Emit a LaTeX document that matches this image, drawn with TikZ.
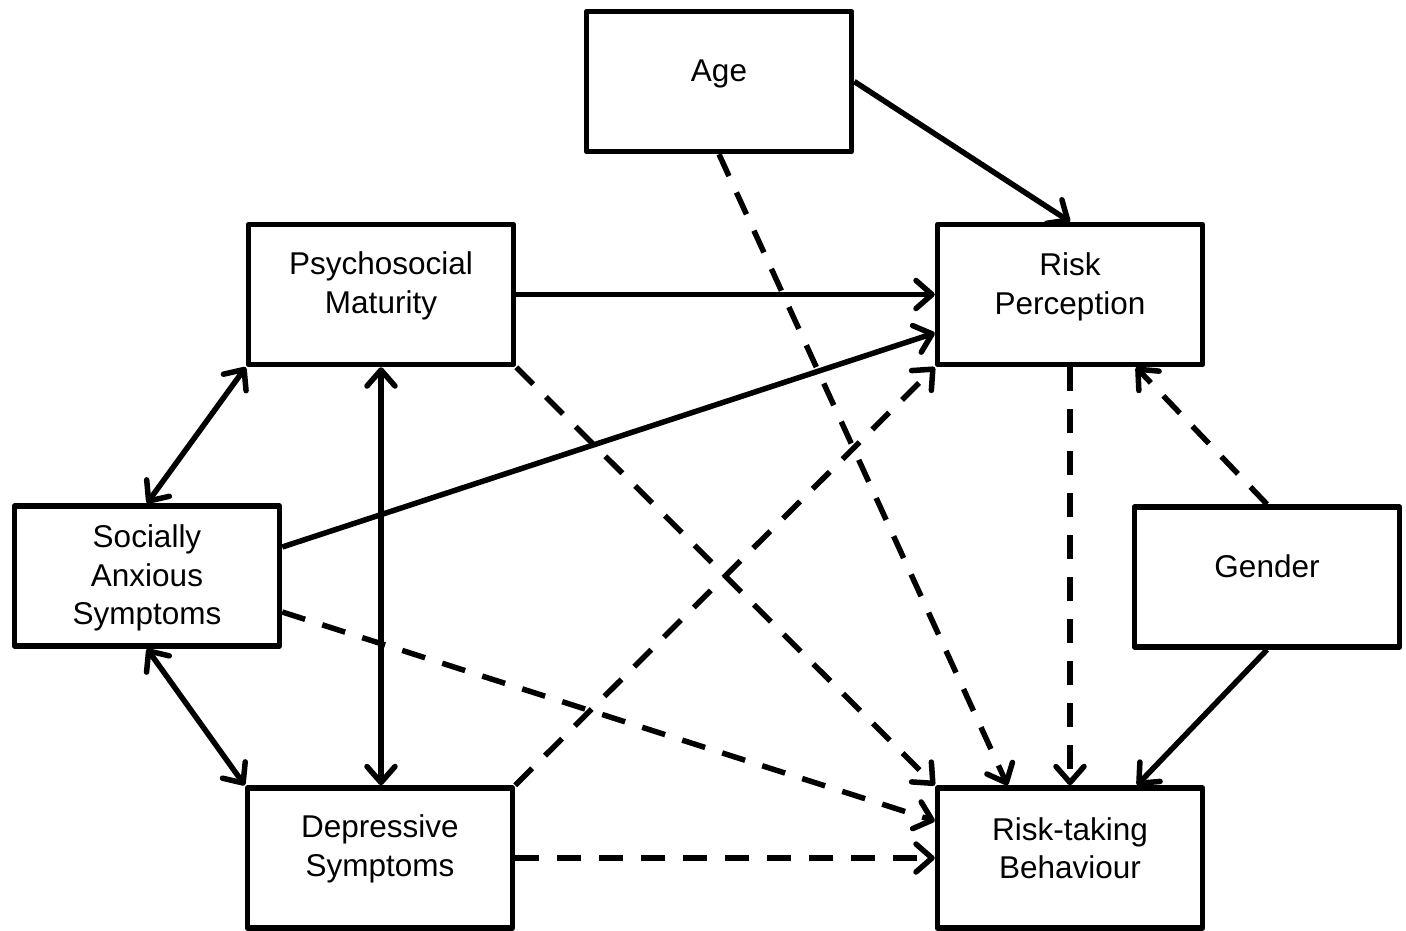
\documentclass[tikz,border=0pt]{standalone}
\usepackage{fontspec}
\setmainfont{Liberation Sans}
\usetikzlibrary{arrows.meta,calc}
\begin{document}
\begin{tikzpicture}[x=1pt,y=-1pt,
  >={Straight Barb[length=16pt,width=28pt,line cap=round,line join=round]},
  box/.style={draw,line width=5.5pt,line join=round,minimum width=265pt,minimum height=140pt,inner sep=0pt},
  lbl/.style={font=\fontsize{31.5}{38.5}\selectfont,align=center,inner sep=0pt},
  con/.style={line width=5.5pt,->},
  bicon/.style={line width=5.5pt,<->},
  dsh/.style={dash pattern=on 24pt off 18pt}
]
\useasboundingbox[fill=white] (0,0) rectangle (1406,930);

\node[box] (age) at (719,81.5) {};
\node[box] (psy) at (381,294.5) {};
\node[box] (rp)  at (1070,294.5) {};
\node[box] (soc) at (147,576) {};
\node[box] (gen) at (1267,577) {};
\node[box] (dep) at (380,858) {};
\node[box] (rt)  at (1070,858) {};

\node[lbl] (agetxt) at (719,73.5) {Age};
\node[lbl] (psytxt) at (381,286) {Psychosocial\\Maturity};
\node[lbl] (rptxt)  at (1070,287) {Risk\\Perception};
\node[lbl] (soctxt) at (147,578) {Socially\\Anxious\\Symptoms};
\node[lbl] (gentxt) at (1267,566) {Gender};
\node[lbl] (deptxt) at (380,849) {Depressive\\Symptoms};
\node[lbl] (rttxt)  at (1070,848) {Risk-taking\\Behaviour};

% solid
\draw[con] (age.east) -- (rp.north);
\draw[con] (psy.east) -- (rp.west);
\draw[con] ($(soc.east)+(0,-29)$) -- ($(rp.west)+(0,38.5)$);
\draw[con] (gen.south) -- ($(rt.north)+(67,0)$);
% dashed
\draw[con,dsh] (age.south) -- ($(rt.north)+(-62.5,0)$);
\draw[con,dsh] (psy.south east) -- (rt.north west);
\draw[con,dsh] ($(soc.east)+(0,36)$) -- ($(rt.west)+(0,-37)$);
\draw[con,dsh] (dep.north east) -- (rp.south west);
\draw[con,dsh] (dep.east) -- (rt.west);
\draw[con,dsh] (rp.south) -- (rt.north);
\draw[con,dsh] (gen.north) -- ($(rp.south)+(66,0)$);
% bidirectional
\draw[bicon] (psy.south west) -- (soc.north);
\draw[bicon] (soc.south) -- (dep.north west);
\draw[bicon] (psy.south) -- (psy.south |- dep.north);
\end{tikzpicture}
\end{document}
